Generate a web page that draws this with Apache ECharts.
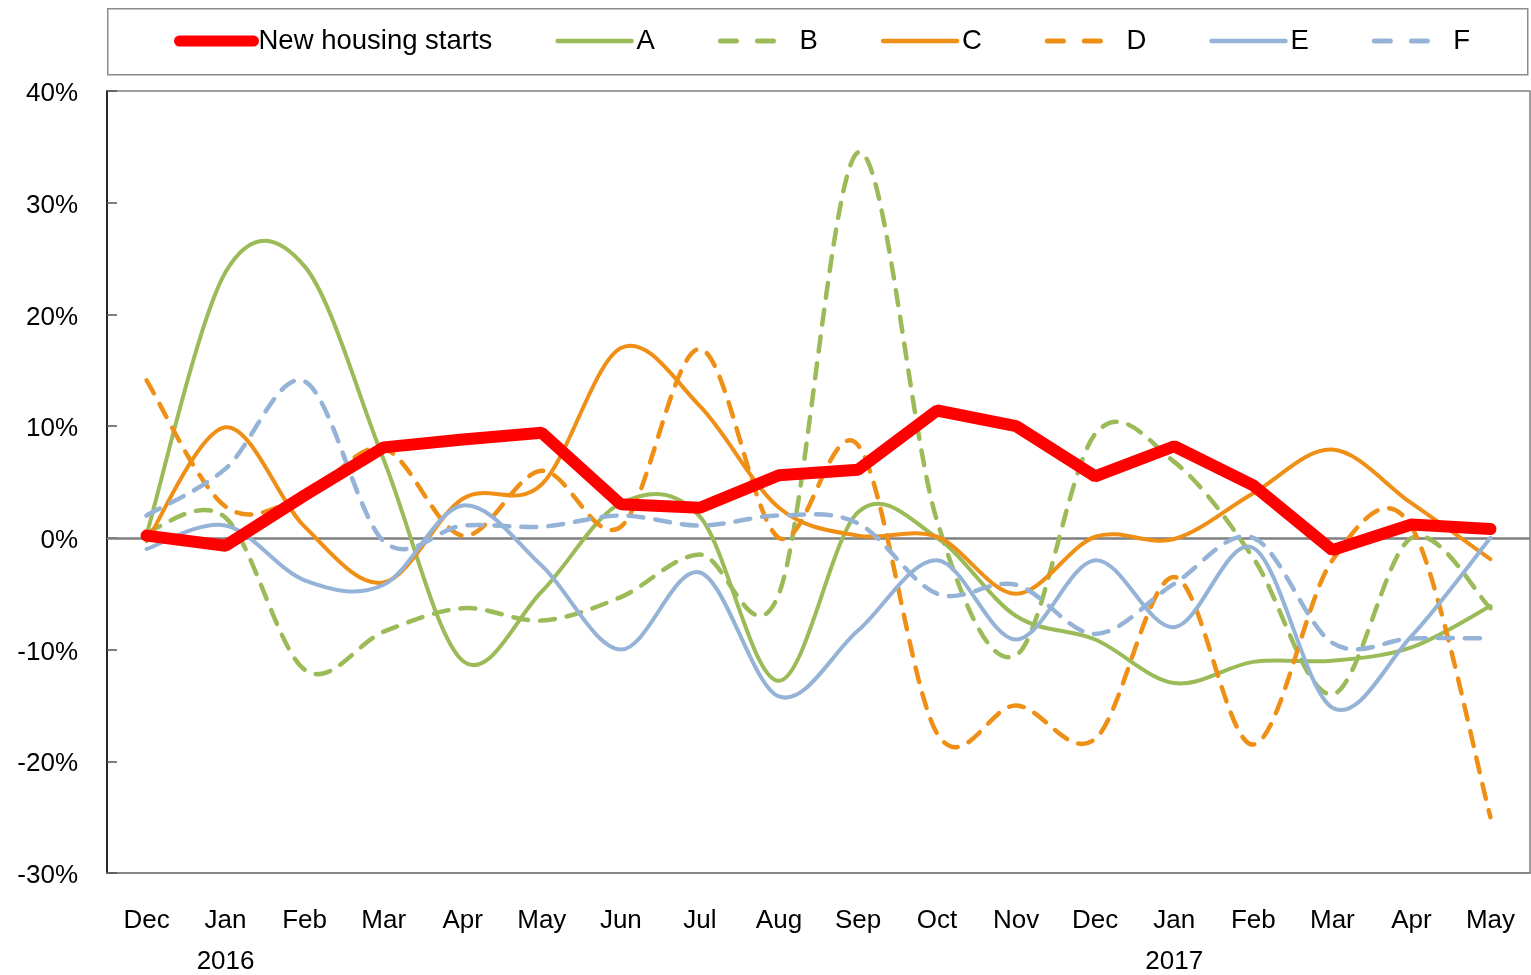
<!DOCTYPE html>
<html>
<head>
<meta charset="utf-8">
<script src="https://cdn.jsdelivr.net/npm/echarts@6/dist/echarts.min.js"></script>
<style>
  html, body { margin: 0; padding: 0; background: #fff; }
  #chart { width: 1531px; height: 975px; }
</style>
</head>
<body>
<div id="chart"></div>
<script>
  var months = ['Dec', 'Jan', 'Feb', 'Mar', 'Apr', 'May', 'Jun', 'Jul', 'Aug', 'Sep', 'Oct', 'Nov', 'Dec', 'Jan', 'Feb', 'Mar', 'Apr', 'May'];
  var years = { 1: '2016', 13: '2017' };
  var yTicks = { min: -30, max: 40, step: 10 };

  var housing = [0.2, -0.7, 3.8, 8.1, 8.8, 9.4, 3.0, 2.7, 5.6, 6.1, 11.4, 10.0, 5.5, 8.2, 4.7, -1.1, 1.2, 0.8];
  var seriesA = [0.3, 23.8, 24.3, 7.0, -11.0, -4.8, 3.1, 1.9, -12.8, 2.3, 0.0, -7.0, -9.1, -13.0, -11.1, -11.0, -9.8, -6.1];
  var seriesB = [0.5, 1.8, -11.8, -8.4, -6.3, -7.4, -5.3, -1.5, -5.0, 34.5, 1.5, -10.5, 9.3, 6.8, -1.8, -14.0, 0.0, -6.3];
  var seriesC = [-0.3, 9.9, 1.0, -4.0, 3.5, 4.8, 17.0, 11.8, 2.7, 0.2, 0.1, -5.0, 0.1, -0.1, 4.0, 7.9, 3.1, -1.9];
  var seriesD = [14.1, 2.8, 3.8, 8.0, 0.2, 6.0, 1.0, 16.9, 0.0, 8.3, -17.5, -15.0, -18.0, -3.5, -18.5, -2.0, 1.0, -25.0];
  var seriesE = [-1.0, 1.1, -3.8, -4.2, 2.9, -2.5, -10.0, -3.1, -14.2, -8.3, -2.0, -9.1, -2.0, -8.0, -0.9, -15.2, -8.8, 0.0];
  var seriesF = [2.0, 6.2, 14.0, -0.3, 1.1, 1.0, 2.0, 1.1, 2.0, 1.3, -5.0, -4.2, -8.6, -4.1, 0.0, -9.4, -9.0, -9.0];

  var RED = '#ff0000', GREEN = '#9bbb59', ORANGE = '#ef8f15', BLUE = '#95b3d7';
  var FONT = 'Liberation Sans';
  var DASH = [15, 12];

  // legend-only line series (the curve itself is drawn by the custom series below)
  function legendSeries(name, color, dashed) {
    return {
      name: name, type: 'line', data: [], symbol: 'none',
      lineStyle: { color: color, width: dashed ? 4.5 : 4, type: dashed ? DASH : 'solid' },
      itemStyle: { color: color }
    };
  }

  // Excel-like smoothed line: Catmull-Rom bezier through the points given by the axes
  function curve(name, values, color, dashed) {
    return {
      name: name,
      type: 'custom',
      silent: true,
      data: values.map(function (v, i) { return [i, v]; }),
      encode: { x: 0, y: 1 },
      renderItem: function (params, api) {
        if (params.dataIndex !== 0) return;
        var n = params.dataInsideLength, pts = [];
        for (var i = 0; i < n; i++) pts.push(api.coord([api.value(0, i), api.value(1, i)]));
        var d = 'M' + pts[0][0] + ' ' + pts[0][1];
        for (var k = 0; k < n - 1; k++) {
          var p0 = pts[Math.max(k - 1, 0)], p1 = pts[k], p2 = pts[k + 1], p3 = pts[Math.min(k + 2, n - 1)];
          d += ' C' + (p1[0] + (p2[0] - p0[0]) / 6) + ' ' + (p1[1] + (p2[1] - p0[1]) / 6) +
               ' ' + (p2[0] - (p3[0] - p1[0]) / 6) + ' ' + (p2[1] - (p3[1] - p1[1]) / 6) +
               ' ' + p2[0] + ' ' + p2[1];
        }
        return {
          type: 'path',
          shape: { pathData: d },
          style: {
            fill: 'none', stroke: color, lineWidth: dashed ? 4.5 : 4,
            lineDash: dashed ? DASH : null, lineCap: 'round', lineJoin: 'round'
          }
        };
      }
    };
  }

  function legendItem(name, width, dashed) {
    var ls = { width: width, cap: 'round' };
    if (dashed) ls.type = [16, 21];
    return { name: name, lineStyle: ls, itemStyle: { opacity: 0 } };
  }

  var chart = echarts.init(document.getElementById('chart'));
  chart.setOption({
    animation: false,
    backgroundColor: '#fff',
    graphic: [{
      type: 'rect',
      left: 107, top: 8, z: -1,
      shape: { width: 1420, height: 66 },
      style: { fill: '#fff', stroke: '#8c8c8c', lineWidth: 1.5 }
    }],
    legend: {
      left: 174, top: 27, padding: 0,
      itemWidth: 74, itemHeight: 14, itemGap: 63,
      textStyle: { fontFamily: FONT, fontSize: 27.5, color: '#000' },
      data: [
        legendItem('New housing starts', 11, false),
        legendItem('A', 4.5, false), legendItem('B', 5, true),
        legendItem('C', 4.5, false), legendItem('D', 5, true),
        legendItem('E', 4.5, false), legendItem('F', 5, true)
      ]
    },
    grid: {
      left: 107, right: 1, top: 91, bottom: 97,
      show: true, borderColor: '#7f7f7f', borderWidth: 1.5
    },
    xAxis: {
      type: 'category',
      data: months,
      boundaryGap: true,
      axisLine: { onZero: false, lineStyle: { color: '#7f7f7f', width: 1.5 } },
      axisTick: { show: false },
      axisLabel: {
        interval: 0, margin: 35, color: '#000',
        fontFamily: FONT, fontSize: 26,
        formatter: function (v, i) {
          return years[i] ? '{m|' + v + '}\n{y|' + years[i] + '}' : '{m|' + v + '}';
        },
        rich: {
          m: { fontFamily: FONT, fontSize: 26, lineHeight: 26, color: '#000' },
          y: { fontFamily: FONT, fontSize: 26, lineHeight: 56, color: '#000' }
        }
      },
      splitLine: { show: false }
    },
    yAxis: {
      type: 'value',
      min: yTicks.min, max: yTicks.max, interval: yTicks.step,
      axisLine: { show: true, lineStyle: { color: '#000', width: 1.5 } },
      axisTick: { show: true, inside: true, length: 10, lineStyle: { color: '#555', width: 1.5 } },
      axisLabel: {
        margin: 29, color: '#000', fontFamily: FONT, fontSize: 26,
        verticalAlign: 'top', lineHeight: 6, formatter: '{value}%'
      },
      splitLine: { show: false }
    },
    series: [
      {
        name: 'New housing starts',
        type: 'line',
        data: housing,
        smooth: false,
        symbol: 'none',
        lineStyle: { color: RED, width: 12, cap: 'round' },
        itemStyle: { color: RED },
        markLine: {
          z: 1,
          silent: true,
          symbol: 'none',
          label: { show: false },
          lineStyle: { color: '#7f7f7f', width: 2.5, type: 'solid' },
          data: [{ yAxis: 0 }]
        }
      },
      legendSeries('A', GREEN, false),
      legendSeries('B', GREEN, true),
      legendSeries('C', ORANGE, false),
      legendSeries('D', ORANGE, true),
      legendSeries('E', BLUE, false),
      legendSeries('F', BLUE, true),
      curve('A', seriesA, GREEN, false),
      curve('B', seriesB, GREEN, true),
      curve('C', seriesC, ORANGE, false),
      curve('D', seriesD, ORANGE, true),
      curve('E', seriesE, BLUE, false),
      curve('F', seriesF, BLUE, true)
    ]
  });
</script>
</body>
</html>
